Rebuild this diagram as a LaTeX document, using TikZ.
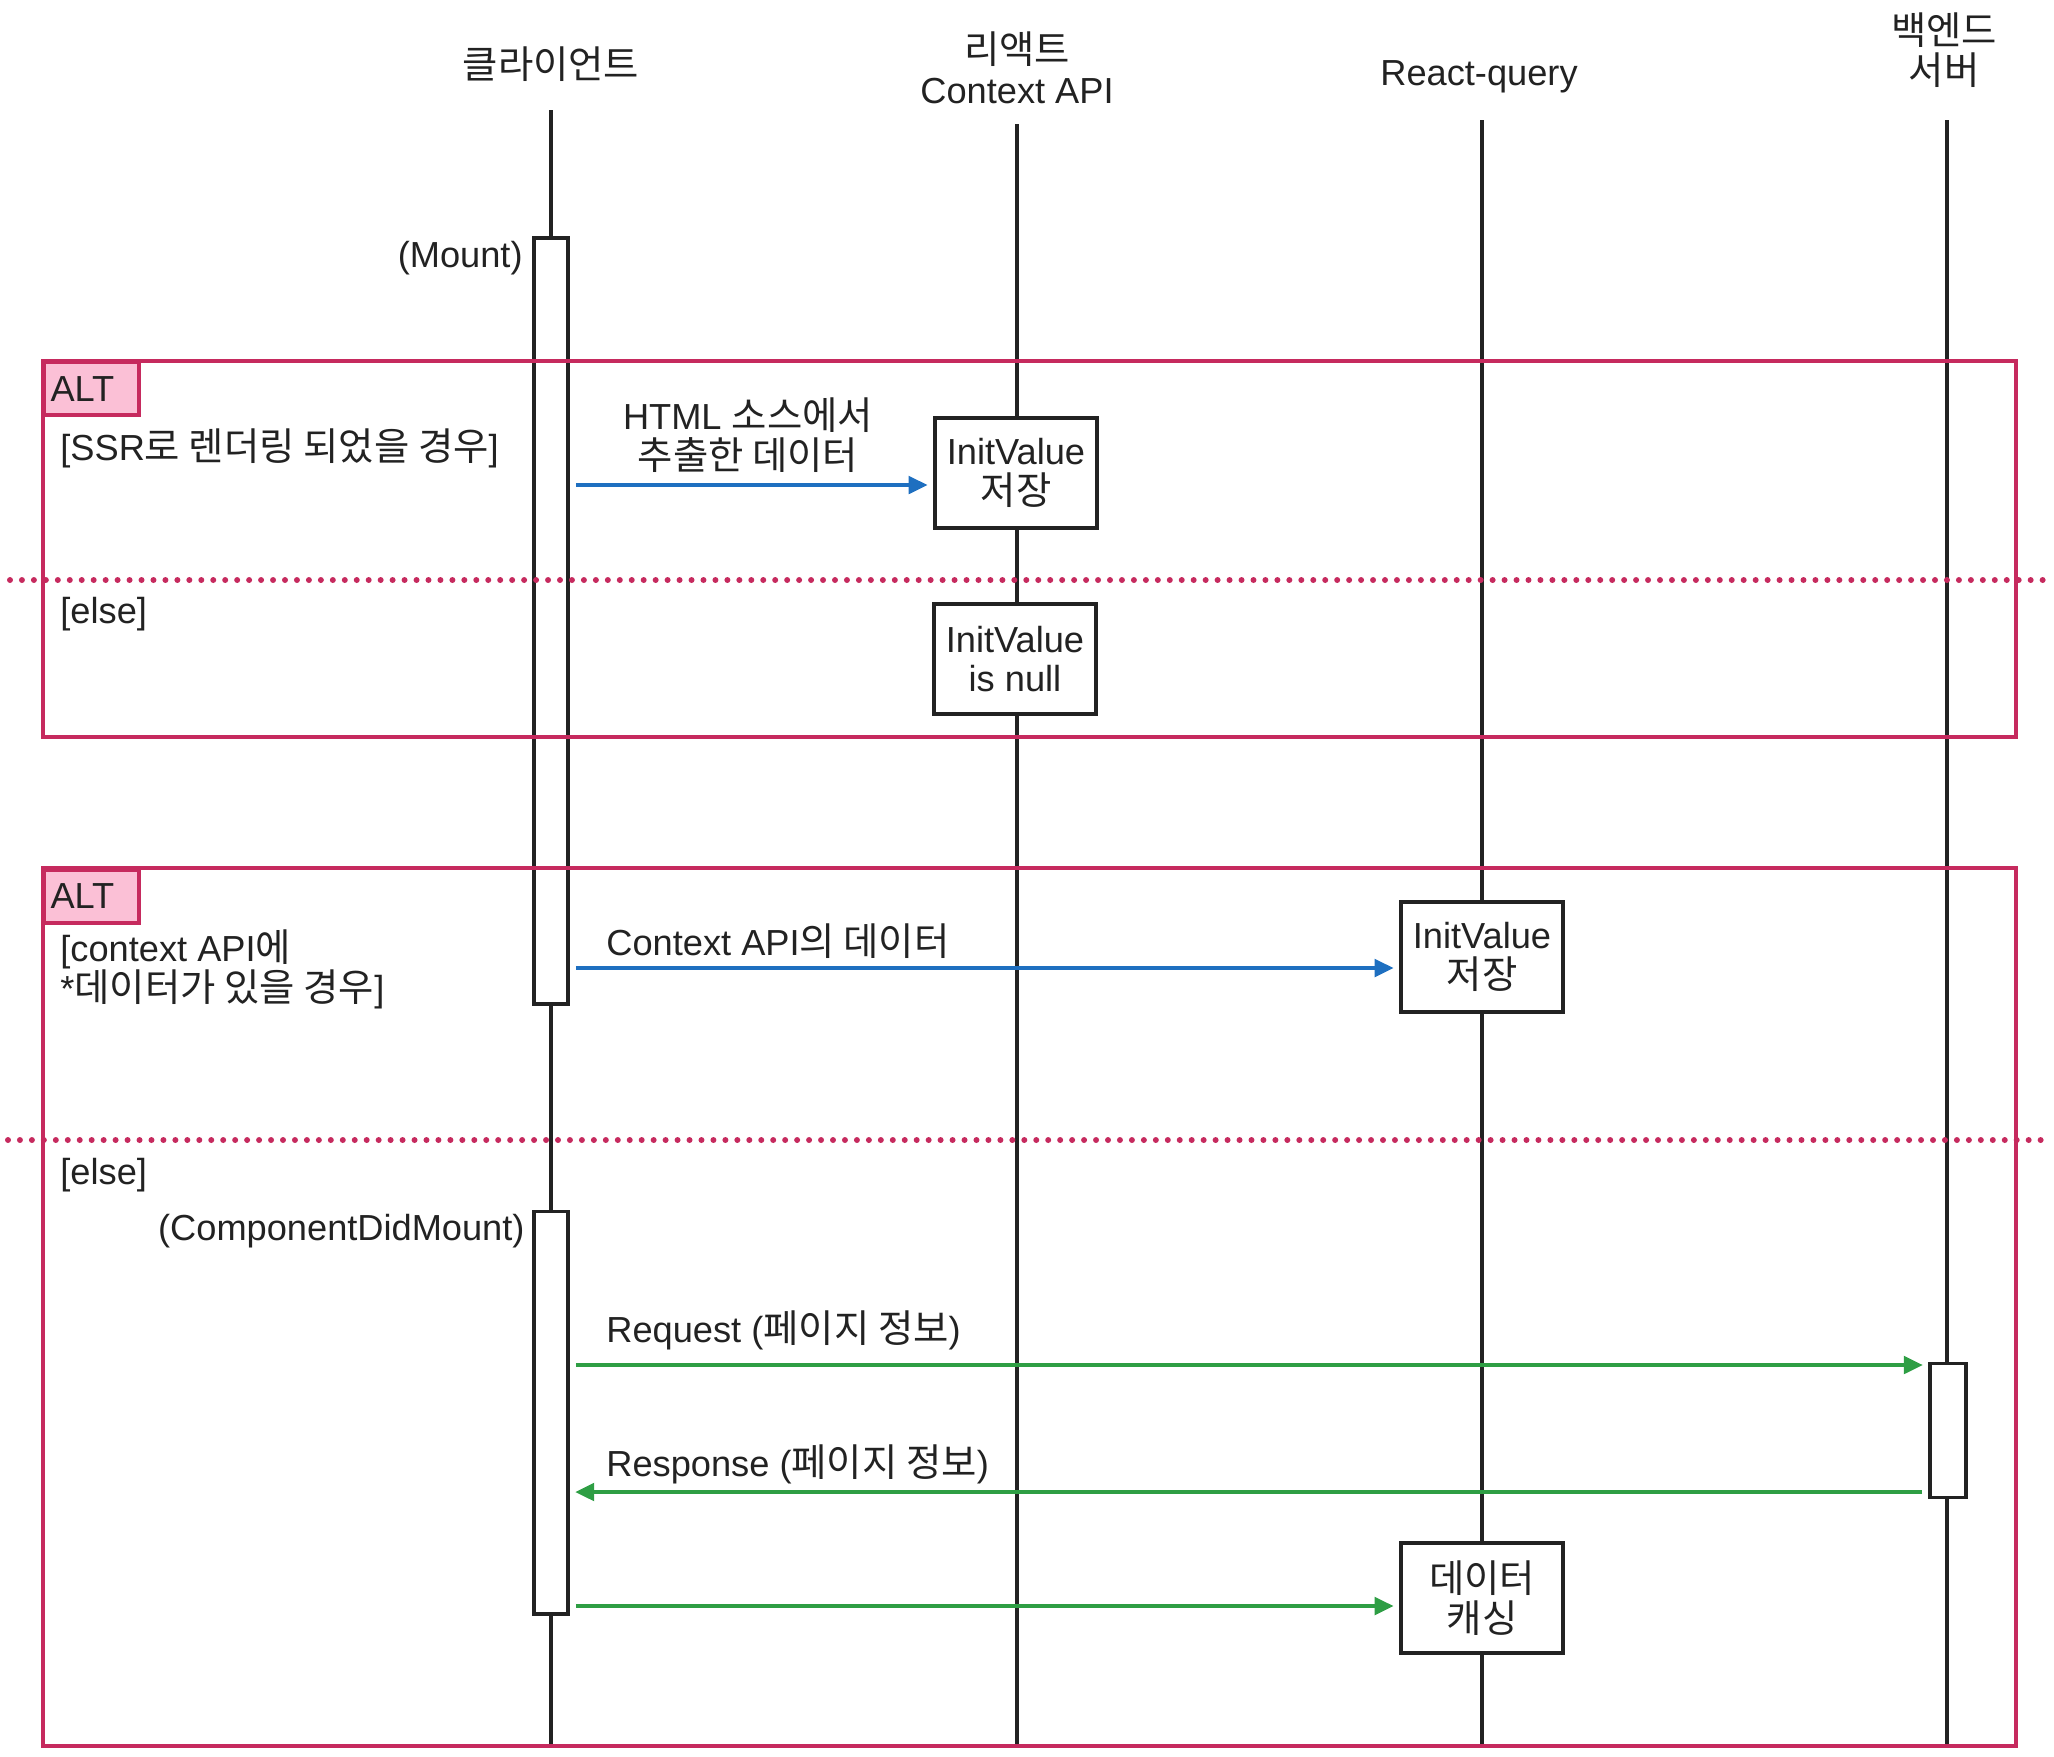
\documentclass[tikz,border=0pt]{standalone}
\usepackage{fontspec}
\setmainfont{Liberation Sans}
\newfontfamily\krfont[Scale=1.06]{Noto Sans CJK KR}
\newcommand{\ko}[1]{{\krfont #1}}
\usepackage{tikz}
\usetikzlibrary{positioning, arrows.meta}
\definecolor{altred}{RGB}{198, 42, 94}
\definecolor{altpink}{RGB}{251, 192, 214}
\definecolor{msgblue}{RGB}{30, 111, 192}
\definecolor{msggreen}{RGB}{46, 158, 68}
\definecolor{ink}{RGB}{34, 34, 34}

\begin{document}
\begin{tikzpicture}[x=0.01cm, y=-0.01cm,
    font=\fontsize{10.3}{11.3}\selectfont, text=ink,
    life/.style={draw=ink, line width=1pt},
    act/.style={draw=ink, fill=white, line width=1.1pt, minimum width=0.34cm, inner sep=0pt, anchor=north},
    box/.style={draw=ink, fill=white, line width=1.2pt, align=center, minimum width=1.62cm, minimum height=1.10cm, inner sep=0pt},
    frame/.style={draw=altred, line width=1.1pt},
    tag/.style={draw=altred, fill=altpink, line width=1.1pt, anchor=north west, minimum width=0.94cm, minimum height=0.526cm, text width=0.82cm, inner xsep=0.06cm, inner ysep=0pt, align=left},
    sep/.style={draw=altred, line width=1.7pt, line cap=round, dash pattern=on 0pt off 3.4pt},
    msg/.style={line width=1pt, shorten <=1.7pt, shorten >=1.5pt, -{Triangle[length=5.4pt, width=5pt]}}]
\useasboundingbox (0,0) rectangle (2054,1756);

% heads
\node (hcl) at (551,64) {\ko{클라이언트}};
\node[align=center] (hctx) at (1017,68) {\ko{리액트}\\Context API};
\node (hrq) at (1479,77) {React-query};
\node[align=center] (hbe) at (1944,50) {\ko{백엔드}\\\ko{서버}};

% lifelines
\coordinate (bot) at (0,1745);
\coordinate (lcl) at (551,110);
\coordinate (lctx) at (1017,124);
\coordinate (lrq) at (1482,120);
\coordinate (lbe) at (1947,120);
\draw[life] (lcl) -- (lcl |- bot);
\draw[life] (lctx) -- (lctx |- bot);
\draw[life] (lrq) -- (lrq |- bot);
\draw[life] (lbe) -- (lbe |- bot);

% activations
\node[act, minimum height=7.66cm] (act1) at (551,236) {};
\node[act, minimum height=4.02cm] (act2) at (551,1209.5) {};
\node[act, minimum height=1.34cm, minimum width=0.36cm] (act3) at (1948,1361.5) {};
\node[anchor=east] (mount) at (535,258) {(Mount)};
\node[anchor=east] (cdm) at (537,1231) {(ComponentDidMount)};

% alt frames
\draw[frame] (42.6,360.6) rectangle (2016,737.4);
\draw[frame] (42.6,868) rectangle (2016,1746);
\draw[sep] (10,580) -- (2044,580);
\draw[sep] (8,1140) -- (2044,1140);

% alt 1
\node[tag] (tag1) at (42.6,360.6) {ALT};
\node[anchor=west] (c1) at (48,448) {[SSR\ko{로 렌더링 되었을 경우}]};
\node[anchor=west] (e1) at (48,614) {[else]};
\node[box] (box1) at (1016,473) {InitValue\\\ko{저장}};
\node[box] (box2) at (1015,659) {InitValue\\is null};

% alt 2
\node[tag] (tag2) at (42.6,868) {ALT};
\node[anchor=west, align=left] (c2) at (48,969) {[context API\ko{에}\\*\ko{데이터가 있을 경우}]};
\node[anchor=west] (e2) at (48,1175) {[else]};
\node[box] (box3) at (1482,957) {InitValue\\\ko{저장}};
\node[box] (box4) at (1482,1598) {\ko{데이터}\\\ko{캐싱}};

% messages
\coordinate (m1) at (0,485);
\coordinate (m2) at (0,968);
\coordinate (m3) at (0,1365);
\coordinate (m4) at (0,1492);
\coordinate (m5) at (0,1606);
\draw[msg, msgblue] (act1.east |- m1) -- (box1.west |- m1);
\draw[msg, msgblue] (act1.east |- m2) -- (box3.west |- m2);
\draw[msg, msggreen] (act2.east |- m3) -- (act3.west |- m3);
\draw[msg, msggreen] (act3.west |- m4) -- (act2.east |- m4);
\draw[msg, msggreen] (act2.east |- m5) -- (box4.west |- m5);

\node[align=center] (l1) at (748,435) {HTML \ko{소스에서}\\\ko{추출한 데이터}};
\node[anchor=west] (l2) at (594,941) {Context API\ko{의 데이터}};
\node[anchor=west] (l3) at (594,1330) {Request (\ko{페이지 정보})};
\node[anchor=west] (l4) at (594,1464) {Response (\ko{페이지 정보})};
\end{tikzpicture}
\end{document}
